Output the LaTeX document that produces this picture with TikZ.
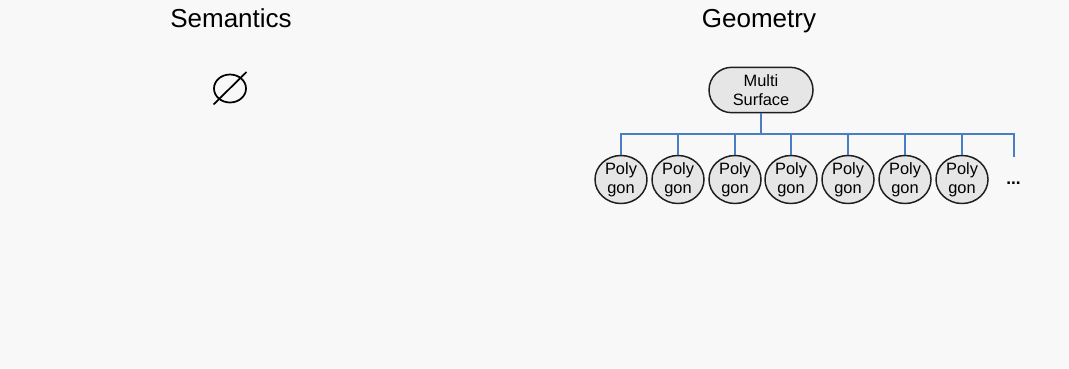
\documentclass[tikz,border=0pt]{standalone}
\usepackage{fontspec}
\setmainfont{Liberation Sans}
\usetikzlibrary{shapes.misc,shapes.geometric}
\definecolor{bg}{HTML}{F8F8F8}
\definecolor{busblue}{HTML}{4A7EC4}
\definecolor{nodefill}{HTML}{E6E6E6}
\definecolor{edge}{HTML}{1E1E1E}
\begin{document}
\begin{tikzpicture}[x=0.75pt,y=-0.75pt,
  title/.style={font=\fontsize{19.5}{23}\selectfont, text=black, inner sep=0, anchor=base},
  pill/.style={rounded rectangle, draw=edge, line width=1.1pt, fill=nodefill,
     minimum width=78pt, minimum height=34pt, inner sep=0, align=center,
     font=\fontsize{12.3}{14.25}\selectfont},
  poly/.style={ellipse, draw=edge, line width=1.1pt, fill=nodefill,
     minimum width=39pt, minimum height=33pt, inner sep=0, align=center,
     font=\fontsize{12.3}{14}\selectfont},
  bus/.style={draw=busblue, line width=1.5pt},
  emptyset/.style={draw=black, line width=1.3pt}]
\fill[bg] (0,0) rectangle (1069,368);
\useasboundingbox (0,0) rectangle (1069,368);
\node[title] (sem) at (231,27) {Semantics};
\node[title] (geo) at (759,27) {Geometry};
% empty set symbol
\draw[emptyset] (230,88.5) ellipse [x radius=16, y radius=14];
\draw[emptyset] (213.5,104.5) -- (246.5,72);
% tree
\node[pill] (ms) at (761,90) {Multi\\Surface};
\coordinate (bus) at (761,134);
\foreach \i/\x in {1/621,2/678,3/735,4/791,5/848,6/905,7/962}{
  \node[poly] (p\i) at (\x,179.5) {Poly\\gon};
}
\coordinate (endtop) at (1014,134);
\coordinate (endbot) at (1014,157);
\foreach \i in {1,...,7}{
  \draw[bus] (ms.south) -- (ms.south |- bus) -| (p\i.north);
}
\draw[bus] (ms.south) -- (ms.south |- bus) -- (endtop) -- (endbot);
\node[font=\fontsize{13}{15}\selectfont\bfseries, inner sep=0] (dots) at (1013.5,183) {...};
\end{tikzpicture}
\end{document}
